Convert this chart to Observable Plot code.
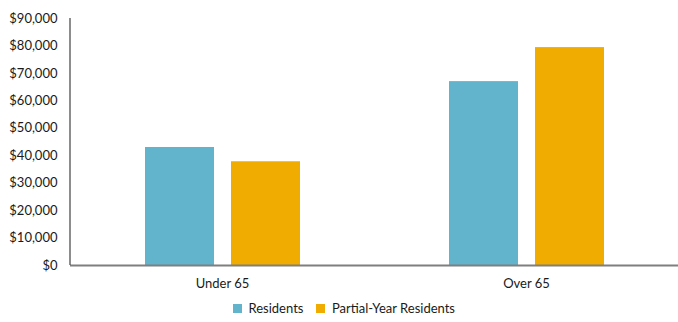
<!DOCTYPE html>
<html>
<head>
<meta charset="utf-8">
<script src="https://cdn.jsdelivr.net/npm/d3@7"></script>
<script src="https://cdn.jsdelivr.net/npm/@observablehq/plot@0.6"></script>
<style>
  html, body { margin: 0; padding: 0; background: #fff; }
  #chart { width: 678px; height: 296px; overflow: hidden; }
  #legend { padding-left: 233px; margin-top: 4px; }
  #legend > div, #legend figure { margin: 0 !important; min-height: 0 !important; }
</style>
</head>
<body>
<div id="chart"></div>
<div id="legend"></div>
<script>
const groups = ["Under 65", "Over 65"];
const series = ["Residents", "Partial-Year Residents"];
const residents = [43000, 67000];
const partialYear = [37800, 79400];
const yTicks = [0, 10000, 20000, 30000, 40000, 50000, 60000, 70000, 80000, 90000];
const colors = ["#62b3cc", "#f0ac00"];

const data = groups.flatMap((g, i) => [
  {group: g, series: series[0], value: residents[i]},
  {group: g, series: series[1], value: partialYear[i]}
]);

const fmt = d3.format(",");
const font = "Lato, 'Open Sans', sans-serif";
const marginLeft = 70;

const chart = Plot.plot({
  width: 678,
  height: 296,
  marginLeft: marginLeft,
  marginRight: 0,
  marginTop: 18,
  marginBottom: 31,
  style: {fontFamily: font, fontSize: "13px", color: "#1a1a1a", background: "#fff"},
  fx: {domain: groups, padding: 0, label: null},
  x: {domain: series, paddingInner: 0.2, paddingOuter: 0.86},
  y: {domain: [0, 90000]},
  color: {domain: series, range: colors},
  marks: [
    Plot.barY(data, {fx: "group", x: "series", y: "value", fill: "series"}),
    Plot.ruleY([0], {stroke: "#7f7f7f", strokeWidth: 1.8}),
    Plot.axisY({ticks: yTicks, tickFormat: d => "$" + fmt(d), tickSize: 0, tickPadding: 13, label: null, fill: "#1a1a1a"}),
    Plot.axisX({ticks: [], label: null}),
    Plot.axisFx({anchor: "bottom", tickSize: 0, tickPadding: 13, label: null, fill: "#1a1a1a"})
  ]
});
document.getElementById("chart").appendChild(chart);

// y-axis line along the left edge, positioned from the plot's own y scale
try {
  const svg = chart.tagName.toLowerCase() === "svg" ? chart : chart.querySelector("svg");
  const ys = chart.scale("y");
  d3.select(svg).append("line")
    .attr("x1", marginLeft).attr("x2", marginLeft)
    .attr("y1", ys.apply(90000)).attr("y2", ys.apply(0))
    .attr("stroke", "#404040").attr("stroke-width", 1.2);
} catch (e) {}

const legend = Plot.legend({
  color: {domain: series, range: colors},
  legend: "swatches",
  swatchSize: 9,
  style: {fontFamily: font, fontSize: "13px", color: "#1a1a1a"}
});
document.getElementById("legend").appendChild(legend);
</script>
</body>
</html>
